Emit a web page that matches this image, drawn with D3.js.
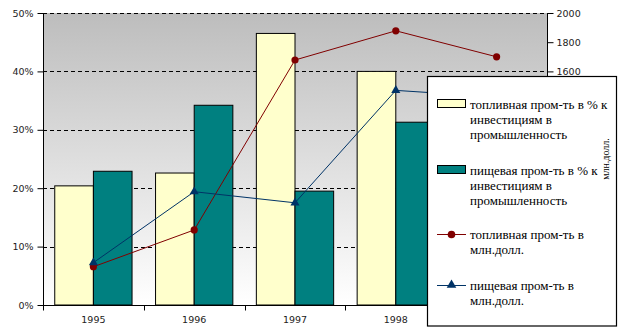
<!DOCTYPE html>
<html>
<head>
<meta charset="utf-8">
<script src="https://cdn.jsdelivr.net/npm/d3@7"></script>
<style>
  html, body { margin: 0; padding: 0; background: #fff; }
  svg { display: block; }
</style>
</head>
<body>
<svg id="chart" width="623" height="333"></svg>
<script>
// Years on the category axis
const years = ["1995", "1996", "1997", "1998", "1999"];
// Share of industrial investment, %
const fuelShare = [20.4, 22.6, 46.5, 40.0, 33.0];
const foodShare = [22.9, 34.2, 19.5, 31.3, 28.0];
// Investment, mln USD
const fuelMln = [262, 514, 1678, 1878, 1700];
const foodMln = [290, 776, 700, 1470, 1425];
// Axis ticks
const pctTicks = [0, 10, 20, 30, 40, 50];
const mlnTicks = [0, 200, 400, 600, 800, 1000, 1200, 1400, 1600, 1800, 2000];
// Secondary-axis labels left uncovered by the legend box
const mlnLabels = [1600, 1800, 2000];

const legendItems = [
  { kind: "bar", fill: "#FFFFCC", lines: ["топливная пром-ть в % к", "инвестициям в", "промышленность"] },
  { kind: "bar", fill: "#008080", lines: ["пищевая пром-ть в % к", "инвестициям в", "промышленность"] },
  { kind: "circle", color: "#800000", lines: ["топливная пром-ть в", "млн.долл."] },
  { kind: "triangle", color: "#003366", lines: ["пищевая пром-ть в", "млн.долл."] }
];

const svg = d3.select("#chart");
const L = 43, R = 547, T = 13, B = 305;

const x = d3.scaleBand().domain(years).range([L, R]).padding(0);
const inner = d3.scaleBand().domain(["fuel", "food"]).range([0, x.bandwidth()])
  .paddingInner(0).paddingOuter(0.304);
const yPct = d3.scaleLinear().domain([0, 50]).range([B, T]);
const yMln = d3.scaleLinear().domain([0, 2000]).range([B, T]);

// Plot background gradient
const defs = svg.append("defs");
const grad = defs.append("linearGradient").attr("id", "bg")
  .attr("x1", 0).attr("y1", 0).attr("x2", 0).attr("y2", 1);
grad.append("stop").attr("offset", "0%").attr("stop-color", "#bdbdbd");
grad.append("stop").attr("offset", "100%").attr("stop-color", "#ffffff");

svg.append("rect").attr("x", L).attr("y", T).attr("width", R - L).attr("height", B - T)
  .attr("fill", "url(#bg)");

// Dashed gridlines
svg.append("g").selectAll("line").data(pctTicks.filter(d => d > 0)).join("line")
  .attr("x1", L).attr("x2", R)
  .attr("y1", d => Math.round(yPct(d)) + 0.5).attr("y2", d => Math.round(yPct(d)) + 0.5)
  .attr("stroke", "#000").attr("stroke-dasharray", "4,3");

// Bars
const barData = years.map((yr, i) => ({ yr, fuel: fuelShare[i], food: foodShare[i] }));
const groups = svg.append("g").selectAll("g").data(barData).join("g")
  .attr("transform", d => `translate(${x(d.yr)},0)`);
groups.append("rect")
  .attr("x", inner("fuel")).attr("width", inner.bandwidth())
  .attr("y", d => yPct(d.fuel)).attr("height", d => B - yPct(d.fuel))
  .attr("fill", "#FFFFCC").attr("stroke", "#000").attr("stroke-width", 1);
groups.append("rect")
  .attr("x", inner("food")).attr("width", inner.bandwidth())
  .attr("y", d => yPct(d.food)).attr("height", d => B - yPct(d.food))
  .attr("fill", "#008080").attr("stroke", "#000").attr("stroke-width", 1);

// Lines on the secondary axis
const cx = yr => x(yr) + x.bandwidth() / 2;
const line = d3.line().x(d => cx(d[0])).y(d => yMln(d[1]));
const fuelPts = years.map((yr, i) => [yr, fuelMln[i]]);
const foodPts = years.map((yr, i) => [yr, foodMln[i]]);

svg.append("path").datum(fuelPts).attr("d", line)
  .attr("fill", "none").attr("stroke", "#800000").attr("stroke-width", 1);
svg.append("g").selectAll("circle").data(fuelPts).join("circle")
  .attr("cx", d => cx(d[0])).attr("cy", d => yMln(d[1])).attr("r", 3.6)
  .attr("fill", "#800000");

svg.append("path").datum(foodPts).attr("d", line)
  .attr("fill", "none").attr("stroke", "#003366").attr("stroke-width", 1);
const tri = d3.symbol().type(d3.symbolTriangle).size(36);
svg.append("g").selectAll("path").data(foodPts).join("path")
  .attr("d", tri)
  .attr("transform", d => `translate(${cx(d[0])},${yMln(d[1])})`)
  .attr("fill", "#003366");

// Axes
const axisFont = "DejaVu Sans, Verdana, sans-serif";
const leftAxis = svg.append("g").attr("transform", `translate(${L + 0.5},0)`)
  .call(d3.axisLeft(yPct).tickValues(pctTicks).tickSize(6).tickPadding(4)
    .tickFormat(d => d + "%"));
const rightAxis = svg.append("g").attr("transform", `translate(${R + 0.5},0)`)
  .call(d3.axisRight(yMln).tickValues(mlnTicks).tickSize(6).tickPadding(3)
    .tickFormat(d => mlnLabels.includes(d) ? String(d) : ""));
const bottomAxis = svg.append("g").attr("transform", `translate(0,${B + 0.5})`)
  .call(d3.axisBottom(x).tickSize(0).tickPadding(11));
// Category boundary ticks
bottomAxis.selectAll(".bound").data(d3.range(years.length + 1)).join("line")
  .attr("class", "bound")
  .attr("x1", i => Math.round(L + i * x.step()) + 0.5)
  .attr("x2", i => Math.round(L + i * x.step()) + 0.5)
  .attr("y1", 0).attr("y2", 5).attr("stroke", "#000");

[leftAxis, rightAxis, bottomAxis].forEach(g => {
  g.selectAll(".domain").attr("stroke", "#000");
  g.selectAll(".tick line").attr("stroke", "#000");
  g.selectAll("text").attr("font-family", axisFont).attr("font-size", 9.5).attr("fill", "#222");
});
leftAxis.select(".domain").attr("d", `M0,${T}V${B}`);
rightAxis.select(".domain").attr("d", `M0,${T}V${B}`);
bottomAxis.select(".domain").attr("d", `M${L},0H${R}`);

// Legend
const lg = svg.append("g");
lg.append("rect").attr("x", 427.5).attr("y", 76.5).attr("width", 189).attr("height", 249.5)
  .attr("fill", "#fff").attr("stroke", "#000").attr("stroke-width", 1.2);
const entryY = [104, 170, 234, 285];
const lineGap = 15;
legendItems.forEach((it, i) => {
  const cy = entryY[i];
  const g = lg.append("g");
  if (it.kind === "bar") {
    g.append("rect").attr("x", 437.5).attr("y", cy - 4.5).attr("width", 28).attr("height", 8)
      .attr("fill", it.fill).attr("stroke", "#000").attr("stroke-width", 1);
  } else {
    g.append("line").attr("x1", 437).attr("x2", 466).attr("y1", cy + 0.5).attr("y2", cy + 0.5)
      .attr("stroke", it.color).attr("stroke-width", 1);
    if (it.kind === "circle") {
      g.append("circle").attr("cx", 451.5).attr("cy", cy + 0.5).attr("r", 3.8).attr("fill", it.color);
    } else {
      g.append("path").attr("d", d3.symbol().type(d3.symbolTriangle).size(40))
        .attr("transform", `translate(451.5,${cy})`).attr("fill", it.color);
    }
  }
  it.lines.forEach((t, j) => {
    g.append("text").attr("x", 470).attr("y", cy + j * lineGap).attr("dy", "0.35em")
      .attr("font-family", "Liberation Serif, Times New Roman, serif").attr("font-size", 13)
      .attr("fill", "#000").text(t);
  });
});

// Secondary axis title
svg.append("text")
  .attr("transform", `translate(605,${(T + B) / 2}) rotate(-90)`)
  .attr("text-anchor", "middle").attr("dy", "0.35em")
  .attr("font-family", "Liberation Serif, Times New Roman, serif").attr("font-size", 10)
  .attr("fill", "#000").text("млн.долл.");
</script>
</body>
</html>
